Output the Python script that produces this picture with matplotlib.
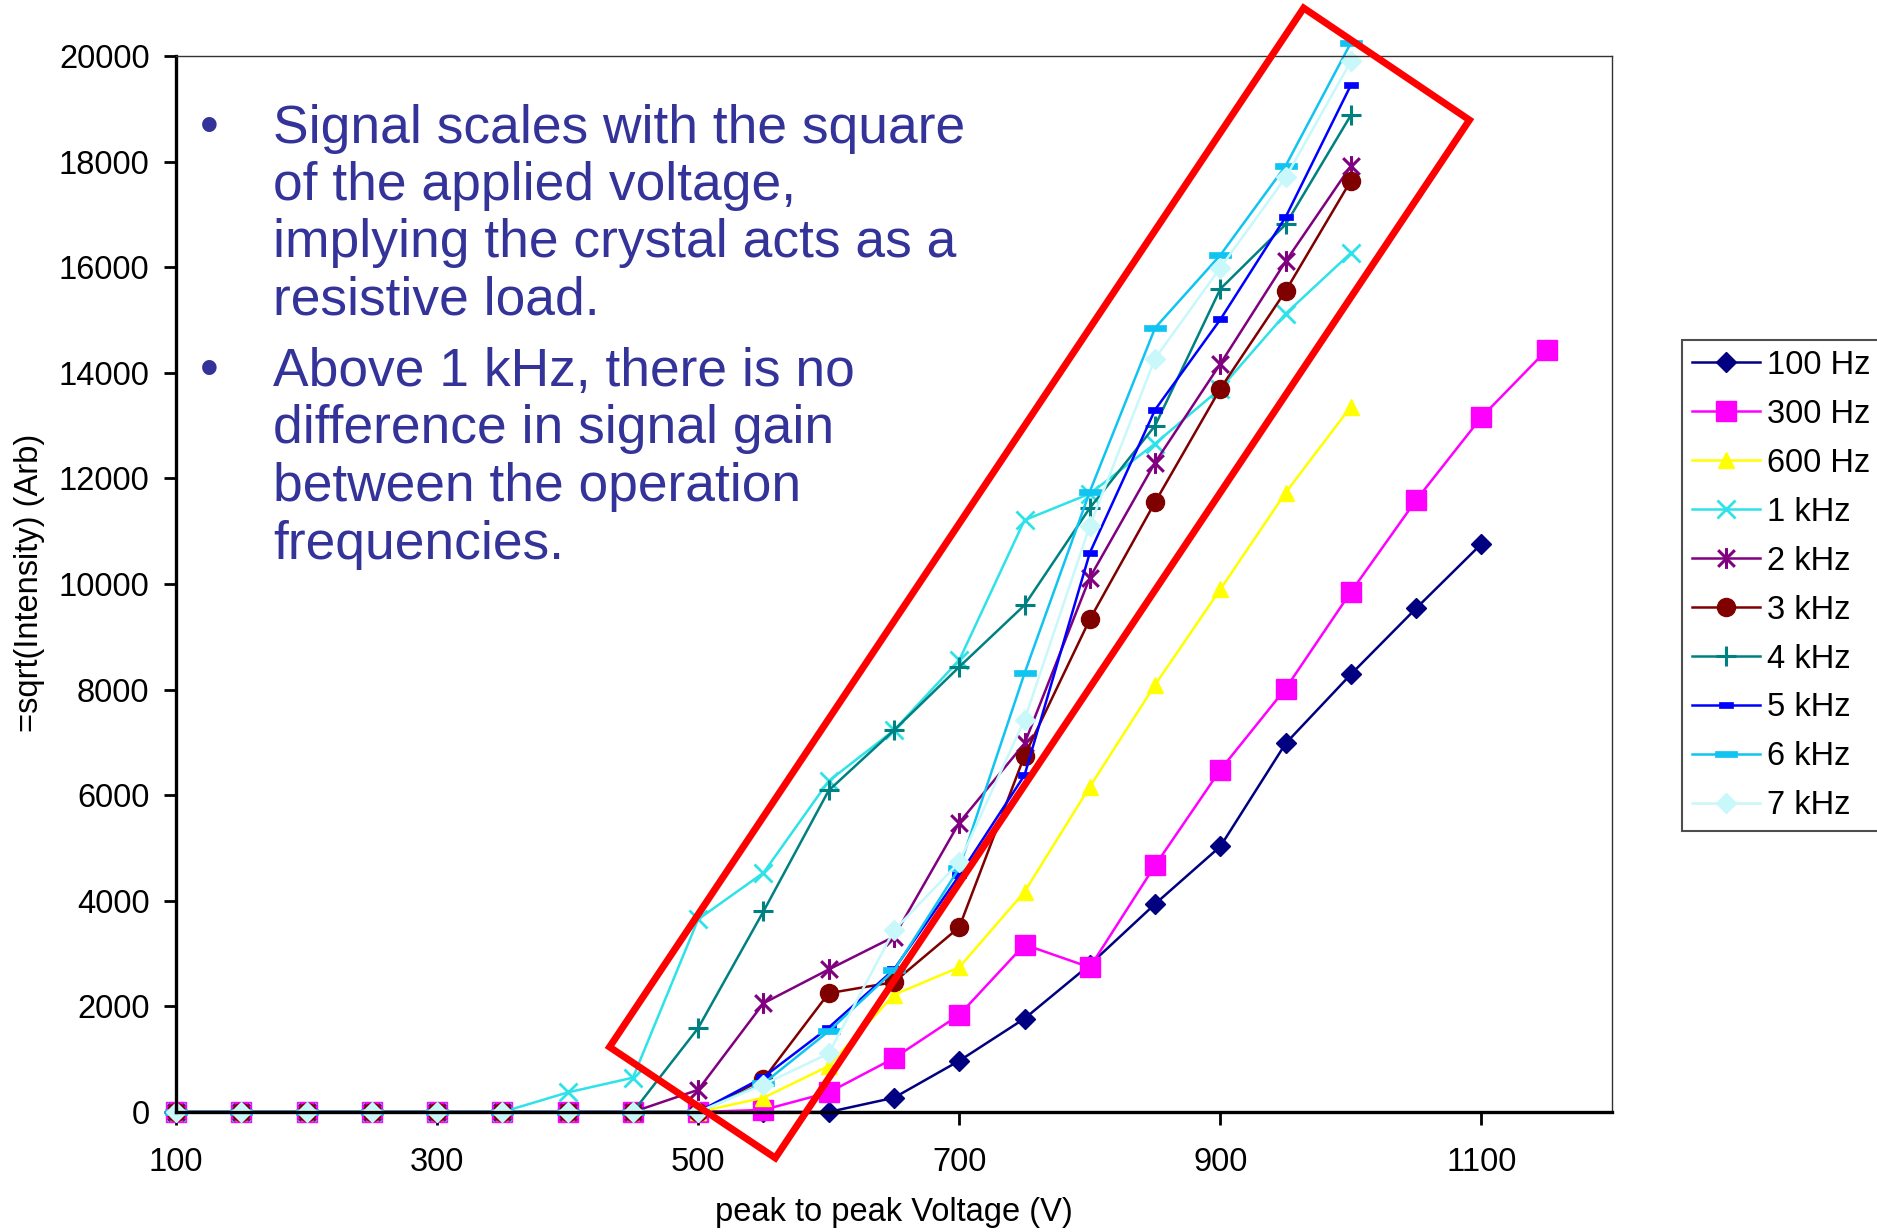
import matplotlib
matplotlib.use("Agg")
import matplotlib.pyplot as plt
from matplotlib.path import Path
from matplotlib.patches import Polygon

plt.rcParams["font.family"] = ["Liberation Sans", "DejaVu Sans"]

# Peak-to-peak voltage sweep (V)
volts_100hz = [100, 150, 200, 250, 300, 350, 400, 450, 500, 550, 600, 650, 700, 750,
               800, 850, 900, 950, 1000, 1050, 1100]
volts_300hz = volts_100hz + [1150]
volts_std = volts_100hz[:19]  # 100 .. 1000 V

# sqrt(Intensity) readings (arbitrary units)
hz100 = [0, 0, 0, 0, 0, 0, 0, 0, 0, 0, 0, 270, 970, 1770, 2790, 3940, 5030, 6980,
         8290, 9540, 10760]
hz300 = [0, 0, 0, 0, 0, 0, 0, 0, 0, 40, 370, 1020, 1840, 3170, 2740, 4670, 6480,
         8020, 9850, 11590, 13160, 14430]
hz600 = [0, 0, 0, 0, 0, 0, 0, 0, 0, 270, 870, 2220, 2740, 4170, 6160, 8090, 9900,
         11730, 13360]
khz1 = [0, 0, 0, 0, 0, 0, 370, 650, 3650, 4530, 6270, 7230, 8560, 11210, 11710,
        12660, 13700, 15120, 16270]
khz2 = [0, 0, 0, 0, 0, 0, 0, 0, 420, 2060, 2700, 3320, 5480, 6980, 10120, 12300,
        14170, 16110, 17920]
khz3 = [0, 0, 0, 0, 0, 0, 0, 0, 0, 620, 2250, 2460, 3500, 6750, 9330, 11550, 13700,
        15550, 17640]
khz4 = [0, 0, 0, 0, 0, 0, 0, 0, 1590, 3800, 6090, 7230, 8430, 9600, 11440, 13000,
        15590, 16810, 18880]
khz5 = [0, 0, 0, 0, 0, 0, 0, 0, 0, 660, 1600, 2700, 4480, 6380, 10590, 13300, 15010,
        16950, 19450]
khz6 = [0, 0, 0, 0, 0, 0, 0, 0, 0, 540, 1530, 2680, 4620, 8310, 11750, 14850, 16230,
        17920, 20250]
khz7 = [0, 0, 0, 0, 0, 0, 0, 0, 0, 520, 1110, 3440, 4730, 7430, 11100, 14270, 15990,
        17700, 19900]

labels = ["100 Hz", "300 Hz", "600 Hz", "1 kHz", "2 kHz", "3 kHz", "4 kHz",
          "5 kHz", "6 kHz", "7 kHz"]
x_ticks = [100, 300, 500, 700, 900, 1100]
y_ticks = list(range(0, 20001, 2000))

bullet_1 = ["Signal scales with the square", "of the applied voltage,",
            "implying the crystal acts as a", "resistive load."]
bullet_2 = ["Above 1 kHz, there is no", "difference in signal gain",
            "between the operation", "frequencies."]

# custom marker shapes
asterisk = Path([(-1, -1), (1, 1), (-1, 1), (1, -1), (0, -1.25), (0, 1.25)],
                [Path.MOVETO, Path.LINETO, Path.MOVETO, Path.LINETO,
                 Path.MOVETO, Path.LINETO])
short_dash = Path([(-1, -0.45), (1, -0.45), (1, 0.45), (-1, 0.45), (-1, -0.45)],
                  [Path.MOVETO, Path.LINETO, Path.LINETO, Path.LINETO, Path.CLOSEPOLY])
long_dash = Path([(-1, -0.3), (1, -0.3), (1, 0.3), (-1, 0.3), (-1, -0.3)],
                 [Path.MOVETO, Path.LINETO, Path.LINETO, Path.LINETO, Path.CLOSEPOLY])

W, H = 1877, 1232
fig = plt.figure(figsize=(W / 100, H / 100), dpi=100)
fig.patch.set_facecolor("white")
ax = fig.add_axes([176 / W, 120 / H, (1612 - 176) / W, (1112 - 56) / H])

series = [
    (volts_100hz, hz100, "#000080", "D", 10, 1.0),
    (volts_300hz, hz300, "#FF00FF", "s", 14, 1.0),
    (volts_std, hz600, "#FFFF00", "^", 12, 1.0),
    (volts_std, khz1, "#2DE3E8", "x", 13, 2.0),
    (volts_std, khz2, "#800080", asterisk, 15, 2.2),
    (volts_std, khz3, "#800000", "o", 13, 1.0),
    (volts_std, khz4, "#008080", "+", 15, 2.2),
    (volts_std, khz5, "#0000FF", short_dash, 10, 0.5),
    (volts_std, khz6, "#10C4F2", long_dash, 16, 0.5),
    (volts_std, khz7, "#C8F8FA", "D", 10, 1.0),
]
for (xs, ys, col, mk, ms, mew), lab in zip(series, labels):
    ax.plot(xs, ys, color=col, lw=1.8, marker=mk, markersize=ms,
            markerfacecolor=col, markeredgecolor=col, markeredgewidth=mew,
            label=lab, clip_on=False)

ax.set_xlim(100, 1200)
ax.set_ylim(0, 20000)
ax.set_xticks(x_ticks)
ax.set_xticklabels([str(v) for v in x_ticks])
ax.set_yticks(y_ticks)
ax.set_yticklabels([str(v) for v in y_ticks])
ax.tick_params(axis="both", direction="out", length=9, width=2, labelsize=23.5,
               colors="black")
ax.tick_params(axis="y", pad=10)
ax.tick_params(axis="x", pad=16)
for side in ("left", "bottom"):
    ax.spines[side].set_linewidth(2.4)
    ax.spines[side].set_color("black")
for side in ("top", "right"):
    ax.spines[side].set_linewidth(1.0)
    ax.spines[side].set_color("#333333")

fig.text(894 / W, 1 - 1212 / H, "peak to peak Voltage (V)", fontsize=23.5,
         ha="center", va="center")
fig.text(30 / W, 1 - 583 / H, "=sqrt(Intensity) (Arb)", fontsize=23.5,
         ha="center", va="center", rotation=90)

# highlight frame around the high-frequency curves
frame = Polygon([(963.8, 20909), (1090.8, 18788), (559.1, -871), (432.1, 1231)],
                closed=True, fill=False, edgecolor="#FF0000", linewidth=5,
                clip_on=False, zorder=10)
ax.add_patch(frame)

# bullet notes
txt_col = "#333399"
for i, line in enumerate(bullet_1):
    yb = 142.5 + i * 57.5
    if i == 0:
        fig.text(209 / W, 1 - yb / H, "\u2022", fontsize=38.4, color=txt_col,
                 ha="center", va="baseline")
    fig.text(273 / W, 1 - yb / H, line, fontsize=38.4, color=txt_col,
             ha="left", va="baseline")
for i, line in enumerate(bullet_2):
    yb = 386 + i * 57.5
    if i == 0:
        fig.text(209 / W, 1 - yb / H, "\u2022", fontsize=38.4, color=txt_col,
                 ha="center", va="baseline")
    fig.text(273 / W, 1 - yb / H, line, fontsize=38.4, color=txt_col,
             ha="left", va="baseline")

leg = fig.legend(loc="upper left", bbox_to_anchor=(1682 / W, 1 - 340 / H),
                 bbox_transform=fig.transFigure, fontsize=23.5, frameon=True,
                 fancybox=False, edgecolor="#222222", borderpad=0.3,
                 handlelength=2.1, handletextpad=0.2, labelspacing=0.55,
                 borderaxespad=0)
leg.get_frame().set_linewidth(1.5)

fig.savefig("out.png", dpi=100)
